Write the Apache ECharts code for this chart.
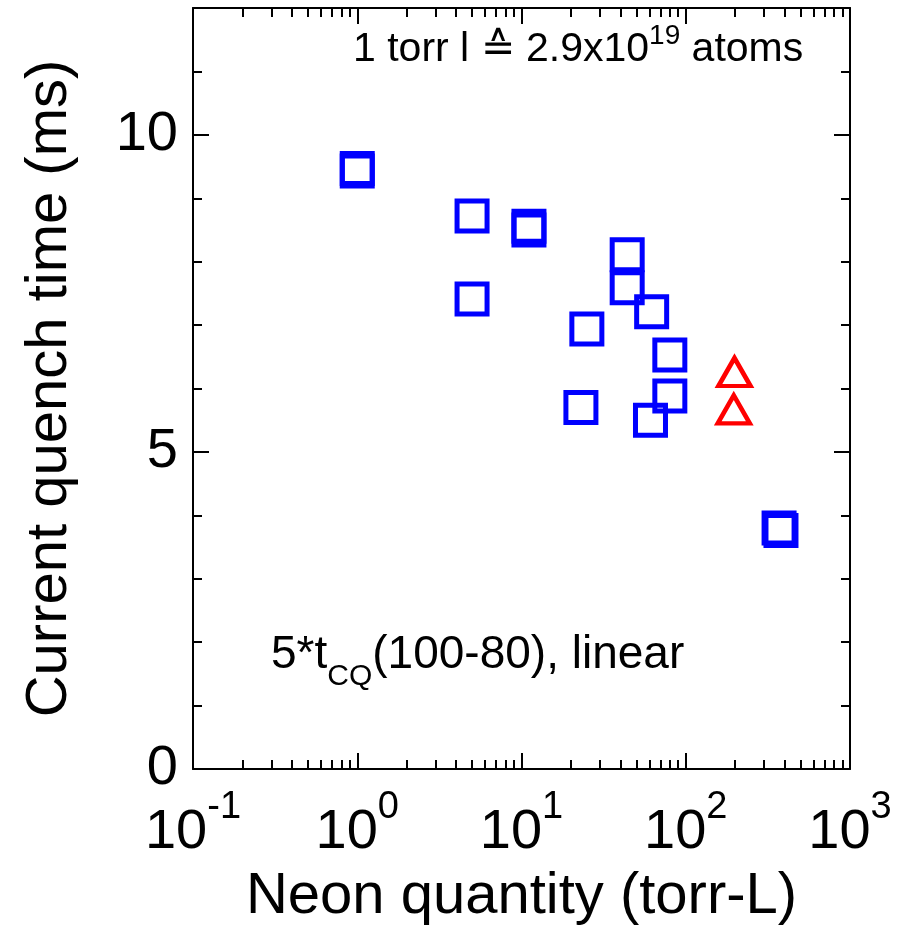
<!DOCTYPE html>
<html>
<head>
<meta charset="utf-8">
<script src="https://cdn.jsdelivr.net/npm/echarts@6/dist/echarts.min.js"></script>
<style>
html,body{margin:0;padding:0;background:#fff;}
#chart{width:904px;height:925px;}
</style>
</head>
<body>
<div id="chart"></div>
<script>
// Neon quantity (torr-L) and current quench time (ms)
const squareNeon = [1.0, 1.0, 5.0, 5.0, 11.1, 11.1, 44, 44, 62, 25, 80, 80, 23, 61, 370, 380];
const squareTime = [9.47, 9.43, 8.72, 7.41, 8.56, 8.50, 8.11, 7.59, 7.21, 6.94, 6.53, 5.88, 5.70, 5.50, 3.80, 3.76];
const triangleNeon = [198, 196];
const triangleTime = [6.26, 5.67];

const xMajorTicks = [0.1, 1, 10, 100, 1000];
const xMinorMultipliers = [2, 3, 4, 5, 6, 7, 8, 9];
const yMajorTicks = [0, 5, 10];
const yMinorTicks = [1, 2, 3, 4, 6, 7, 8, 9, 11];

const xTitle = 'Neon quantity (torr-L)';
const yTitle = 'Current quench time (ms)';

const xMinorTicks = [];
[0.1, 1, 10, 100].forEach(d => xMinorMultipliers.forEach(k => xMinorTicks.push(+(k * d).toPrecision(6))));

const FONT = '"Liberation Sans", Arial, Helvetica, sans-serif';
const BLUE = '#0000ff';
const RED = '#ff0000';

const lineStyle = { color: '#000', width: 2 };

function xAxisDef(pos, ticks, len, showLabel, showLine) {
  return {
    type: 'log', logBase: 10, min: 0.1, max: 1000, position: pos, gridIndex: 0,
    axisLine: { show: showLine, onZero: false, lineStyle: lineStyle },
    axisTick: { show: true, inside: true, length: len, customValues: ticks, lineStyle: { color: '#000', width: 2 } },
    axisLabel: showLabel ? {
      show: true, customValues: xMajorTicks, margin: 20,
      formatter: function (v) {
        const e = Math.round(Math.log10(v));
        return '{b|10}{s|' + e + '}';
      },
      rich: {
        b: { fontSize: 56, fontFamily: FONT, color: '#000', lineHeight: 72, verticalAlign: 'bottom' },
        s: { fontSize: 38, fontFamily: FONT, color: '#000', lineHeight: 38, verticalAlign: 'top' }
      }
    } : { show: false },
    splitLine: { show: false },
    name: showLabel ? xTitle : '',
    nameLocation: 'middle', nameGap: 99,
    nameTextStyle: { fontSize: 58, fontFamily: FONT, color: '#000' }
  };
}

function yAxisDef(pos, ticks, len, showLabel, showLine) {
  return {
    type: 'value', min: 0, max: 12, interval: 1, position: pos, gridIndex: 0,
    axisLine: { show: showLine, onZero: false, lineStyle: lineStyle },
    axisTick: { show: true, inside: true, length: len, customValues: ticks, lineStyle: { color: '#000', width: 2 } },
    axisLabel: showLabel ? {
      show: true, customValues: yMajorTicks, margin: 15,
      fontSize: 56, fontFamily: FONT, color: '#000'
    } : { show: false },
    splitLine: { show: false },
    name: showLabel ? yTitle : '',
    nameLocation: 'middle', nameGap: 114, nameRotate: 90,
    nameTextStyle: { fontSize: 58, fontFamily: FONT, color: '#000' }
  };
}

const chart = echarts.init(document.getElementById('chart'), null, { renderer: 'canvas' });

const option = {
  backgroundColor: '#fff',
  animation: false,
  grid: { left: 193, right: 54, top: 8, bottom: 156, containLabel: false, outerBoundsMode: 'none' },
  xAxis: [
    xAxisDef('bottom', xMajorTicks, 16, true, true),
    xAxisDef('bottom', xMinorTicks, 9, false, false),
    xAxisDef('top', xMajorTicks, 16, false, true),
    xAxisDef('top', xMinorTicks, 9, false, false)
  ],
  yAxis: [
    yAxisDef('left', yMajorTicks, 16, true, true),
    yAxisDef('left', yMinorTicks, 9, false, false),
    yAxisDef('right', yMajorTicks, 16, false, true),
    yAxisDef('right', yMinorTicks, 9, false, false)
  ],
  series: [
    {
      type: 'scatter', xAxisIndex: 0, yAxisIndex: 0,
      data: squareNeon.map((x, i) => [x, squareTime[i]]),
      symbol: 'rect', symbolSize: 30,
      itemStyle: { color: 'rgba(0,0,0,0)', borderColor: BLUE, borderWidth: 5, opacity: 1 }
    },
    {
      type: 'scatter', xAxisIndex: 0, yAxisIndex: 0,
      data: triangleNeon.map((x, i) => [x, triangleTime[i]]),
      symbol: 'triangle', symbolSize: [32, 28],
      itemStyle: { color: 'rgba(0,0,0,0)', borderColor: RED, borderWidth: 4.5, opacity: 1 }
    }
  ],
  graphic: [
    {
      type: 'text', left: 353, top: 22, silent: true,
      style: {
        text: '{a|1 torr l ≙ 2.9x10}{s|19}{a| atoms}',
        rich: {
          a: { fontSize: 41, fontFamily: FONT, fill: '#000', lineHeight: 48, verticalAlign: 'bottom' },
          s: { fontSize: 28, fontFamily: FONT, fill: '#000', lineHeight: 28, verticalAlign: 'top' }
        }
      }
    },
    {
      type: 'text', left: 271, top: 632, silent: true,
      style: {
        text: '{a|5*t}{s|CQ}{a|(100-80), linear}',
        rich: {
          a: { fontSize: 46, fontFamily: FONT, fill: '#000', lineHeight: 52, verticalAlign: 'top' },
          s: { fontSize: 30, fontFamily: FONT, fill: '#000', lineHeight: 30, verticalAlign: 'bottom', padding: [0, 0, -8, 0] }
        }
      }
    }
  ]
};

chart.setOption(option);
</script>
</body>
</html>
